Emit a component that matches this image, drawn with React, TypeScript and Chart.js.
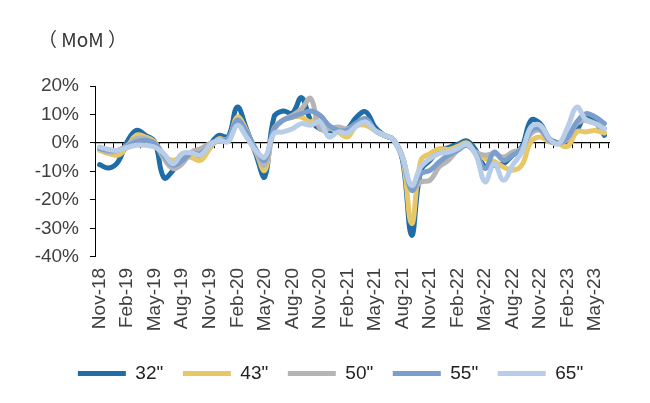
import React, { useEffect, useRef } from 'react';
import { Chart, registerables } from 'chart.js';

Chart.register(...registerables);

const months = [
  'Nov-18', 'Dec-18', 'Jan-19', 'Feb-19', 'Mar-19', 'Apr-19', 'May-19', 'Jun-19', 'Jul-19', 'Aug-19',
  'Sep-19', 'Oct-19', 'Nov-19', 'Dec-19', 'Jan-20', 'Feb-20', 'Mar-20', 'Apr-20', 'May-20', 'Jun-20',
  'Jul-20', 'Aug-20', 'Sep-20', 'Oct-20', 'Nov-20', 'Dec-20', 'Jan-21', 'Feb-21', 'Mar-21', 'Apr-21',
  'May-21', 'Jun-21', 'Jul-21', 'Aug-21', 'Sep-21', 'Oct-21', 'Nov-21', 'Dec-21', 'Jan-22', 'Feb-22',
  'Mar-22', 'Apr-22', 'May-22', 'Jun-22', 'Jul-22', 'Aug-22', 'Sep-22', 'Oct-22', 'Nov-22', 'Dec-22',
  'Jan-23', 'Feb-23', 'Mar-23', 'Apr-23', 'May-23', 'Jun-23',
];

const seriesNames = ['32"', '43"', '50"', '55"', '65"'];

const s32 = [-7.6, -8.8, -6.7, 0.4, 4.4, 2.7, 0.4, -12.2, -9.6, -4.3, -4.3, -5.1, -0.8, 2.7, 2.1, 12.6, 5.0, -3.7, -11.9, 9.1, 11.2, 10.5, 15.9, 8.0, 5.0, 4.4, 3.9,
  5.0, 9.1, 10.9, 5.6, 2.7, 1.2, -6.0, -32.4, -9.6, -6.1, -2.6, -1.6, -0.5, 0.7, -2.6, -8.4, -7.8, -7.3, -4.3, -1.4, 8.0, 6.8, 1.5, 0.0, 0.7, 4.4, 9.7, 7.4, 2.7];
const s43 = [-2.6, -3.7, -4.3, -1.4, 2.7, 2.1, 0.4, -4.3, -6.1, -4.9, -5.1, -6.1, -2.0, 1.5, 0.9, 9.1, 4.4, -2.6, -9.6, 5.0, 8.0, 9.1, 9.1, 7.4, 9.7, 5.6, 3.9,
  2.1, 6.0, 6.2, 4.4, 2.7, 1.2, -5.0, -28.3, -6.1, -3.7, -2.0, -2.3, -1.2, 0.0, -3.5, -5.5, -6.5, -8.4, -9.6, -7.8, 0.4, 2.1, 0.4, -0.3, -1.2, 3.9, 3.9, 4.4, 3.5];
const s50 = [-2.0, -3.2, -2.6, -0.8, 1.5, 1.5, -0.2, -5.5, -9.0, -7.3, -3.2, -2.0, -0.2, 0.9, 1.5, 8.0, 3.3, -3.2, -7.8, 4.4, 8.0, 9.7, 12.0, 15.6, 5.0, 5.0, 5.6,
  5.0, 7.0, 8.5, 4.4, 2.7, 1.2, -5.0, -16.6, -13.7, -13.1, -8.4, -6.1, -2.6, -0.8, -3.2, -4.3, -3.7, -4.9, -3.2, -2.0, 3.3, 4.4, 0.9, 0.0, 1.5, 6.8, 8.0, 6.8, 5.0];
const s55 = [-2.0, -2.6, -2.6, -1.2, 0.4, 0.9, -0.2, -4.3, -7.8, -6.1, -3.7, -3.7, -0.8, 0.9, 1.5, 8.0, 3.9, -2.0, -6.1, 5.0, 8.0, 9.1, 10.3, 11.2, 9.7, 6.2, 4.4,
  4.5, 7.0, 8.5, 4.4, 2.7, 1.2, -5.0, -16.6, -10.8, -9.6, -6.7, -4.3, -2.6, -0.8, -3.8, -9.0, -3.2, -6.1, -4.3, -2.0, 4.4, 5.0, 0.9, 0.0, 2.1, 7.4, 10.3, 9.1, 6.8];
const s65 = [-1.4, -2.3, -2.6, -1.6, -0.8, -0.8, -1.4, -3.7, -7.3, -3.7, -3.5, -4.3, -0.8, 0.9, 0.4, 6.2, 2.1, -2.6, -4.9, 3.3, 3.9, 5.0, 6.8, 6.2, 7.4, 2.1, 3.9,
  3.5, 6.0, 7.4, 4.4, 2.7, 1.2, -5.0, -14.9, -8.4, -5.5, -3.7, -3.2, -2.0, -0.5, -4.3, -13.7, -7.3, -13.1, -7.8, -3.2, 5.6, 6.2, 1.5, -0.3, 5.6, 12.6, 8.0, 6.8, 5.0];

const seriesValues = [s32, s43, s50, s55, s65];
const seriesColors = ['#1F6CA6', '#E8C766', '#B5B5B5', '#7B9ECD', '#B8CDE8'];

const yTicks = { min: -40, max: 20, step: 10 };
const titleText = '（ MoM ）';
const axisFont = { family: '"Liberation Sans", Arial, sans-serif', size: 19 };

const titlePlugin = {
  id: 'cornerTitle',
  afterDraw(chart: any) {
    const ctx = chart.ctx;
    ctx.save();
    ctx.font = '19px "Noto Sans CJK SC"';
    ctx.fillStyle = '#333333';
    ctx.textBaseline = 'middle';
    ctx.textAlign = 'left';
    ctx.fillText(titleText, 38, 40);
    ctx.restore();
  },
};

export default function App() {
  const canvasRef = useRef<HTMLCanvasElement | null>(null);

  useEffect(() => {
    if (!canvasRef.current) return;
    const chart = new Chart(canvasRef.current, {
      type: 'line',
      data: {
        labels: months,
        datasets: seriesNames.map((name, i) => ({
          label: name,
          data: seriesValues[i],
          borderColor: seriesColors[i],
          backgroundColor: seriesColors[i],
          borderWidth: 5,
          pointRadius: 0,
          pointHoverRadius: 0,
          tension: 0.4,
          fill: false,
          borderCapStyle: 'round',
          borderJoinStyle: 'round',
          order: seriesNames.length - i,
          xAxisID: 'x',
          yAxisID: 'y',
        })),
      },
      options: {
        responsive: true,
        maintainAspectRatio: false,
        animation: false,
        layout: { padding: { left: 32, right: 21, top: 86, bottom: 10 } },
        plugins: {
          title: { display: false },
          tooltip: { enabled: false },
          legend: {
            display: true,
            position: 'bottom',
            align: 'center',
            labels: {
              usePointStyle: true,
              pointStyle: 'line',
              pointStyleWidth: 48,
              padding: 19.6,
              color: '#222222',
              font: { family: '"Liberation Sans", Arial, sans-serif', size: 19 },
              sort: (a: any, b: any) => a.datasetIndex - b.datasetIndex,
            },
          },
        },
        scales: {
          x: {
            type: 'category',
            position: 'bottom',
            offset: true,
            grid: { display: false, drawTicks: false },
            border: { display: false },
            afterFit: (scale: any) => { scale.height = 87.5; },
            ticks: {
              autoSkip: false,
              minRotation: 90,
              maxRotation: 90,
              padding: 11,
              color: '#404040',
              font: axisFont,
              callback: (_v: any, i: number) => (i % 3 === 0 ? months[i] : ''),
            },
          },
          x2: {
            type: 'category',
            axis: 'x',
            position: { y: 0 },
            offset: true,
            grid: {
              display: true,
              offset: true,
              drawOnChartArea: false,
              drawTicks: true,
              tickLength: 5,
              color: '#000000',
              lineWidth: 1,
            },
            border: { display: true, color: '#000000', width: 1.2 },
            ticks: { display: false, autoSkip: false },
          },
          y: {
            type: 'linear',
            position: 'left',
            min: yTicks.min,
            max: yTicks.max,
            afterFit: (scale: any) => { scale.width = 63; },
            grid: { drawOnChartArea: false, drawTicks: true, tickLength: 5, color: '#000000' },
            border: { display: true, color: '#000000', width: 1 },
            ticks: {
              stepSize: yTicks.step,
              padding: 11,
              color: '#404040',
              font: axisFont,
              callback: (v: any) => `${v}%`,
            },
          },
          ySpacer: {
            type: 'linear',
            axis: 'y',
            position: 'right',
            display: true,
            afterFit: (scale: any) => { scale.width = 20; },
            grid: { display: false, drawTicks: false },
            border: { display: false },
            ticks: { display: false },
          },
        },
      },
      plugins: [titlePlugin],
    } as any);
    return () => chart.destroy();
  }, []);

  return (
    <div style={{ position: 'absolute', left: 0, top: 0, width: 650, height: 403, background: '#ffffff' }}>
      <canvas ref={canvasRef} />
    </div>
  );
}
